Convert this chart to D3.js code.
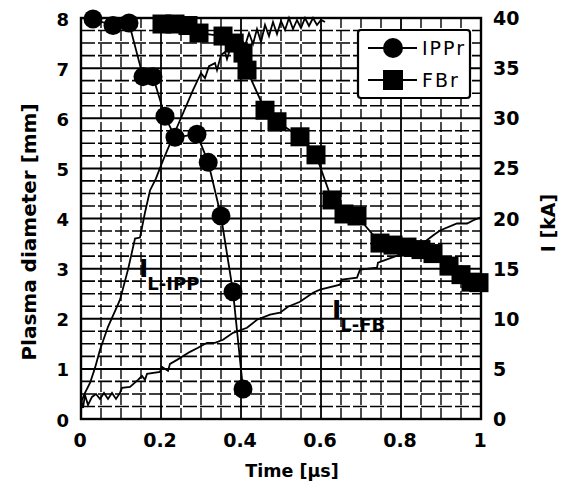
<!DOCTYPE html>
<html><head><meta charset="utf-8">
<script src="https://cdn.jsdelivr.net/npm/d3@7"></script>
<style>
html,body{margin:0;padding:0;background:#fff;}
text{font-family:"DejaVu Sans",sans-serif;fill:#000;}
</style></head>
<body>
<svg id="chart" width="571" height="495"></svg>
<script>
// ---- data ----
const ippT = [0.03, 0.08, 0.12, 0.155, 0.18, 0.21, 0.235, 0.29, 0.318, 0.35, 0.38, 0.405];
const ippD = [7.98, 7.85, 7.9, 6.83, 6.83, 6.04, 5.62, 5.68, 5.12, 4.05, 2.54, 0.6];

const fbT = [0.2025, 0.235, 0.2675, 0.295, 0.355, 0.383, 0.405, 0.415, 0.46, 0.49, 0.5475, 0.5875, 0.6275, 0.6575, 0.69, 0.7475, 0.78, 0.815, 0.85, 0.88, 0.92, 0.95, 0.975, 0.995];
const fbD = [7.88, 7.88, 7.85, 7.7, 7.64, 7.5, 7.3, 6.96, 6.16, 5.93, 5.63, 5.27, 4.37, 4.09, 4.05, 3.51, 3.47, 3.43, 3.38, 3.3, 3.05, 2.88, 2.73, 2.72];

const ilIppT = [0, 0.0025, 0.01, 0.0225, 0.035, 0.0475, 0.0675, 0.09, 0.0975, 0.1175, 0.135, 0.1475, 0.16, 0.1725, 0.1875, 0.205, 0.24, 0.28, 0.30, 0.31, 0.32, 0.335, 0.34, 0.35, 0.36, 0.365, 0.375, 0.385, 0.39, 0.40, 0.41, 0.42, 0.43, 0.44, 0.45, 0.46, 0.47, 0.48, 0.49, 0.50, 0.51, 0.52, 0.53, 0.54, 0.55, 0.56, 0.57, 0.58, 0.59, 0.60, 0.61];
const ilIppI = [1.5, 1.9, 2.6, 3.6, 5.1, 6.9, 9.2, 11.2, 11.9, 14.9, 18.0, 18.1, 20.6, 22.8, 24.0, 25.8, 29.1, 32.8, 34.5, 34.0, 35.2, 35.5, 34.8, 36.3, 36.6, 35.9, 37.2, 37.8, 36.5, 38.0, 37.2, 38.5, 37.4, 38.9, 37.6, 39.3, 38.2, 39.6, 38.4, 39.7, 38.8, 40.0, 38.9, 39.8, 39.0, 40.0, 39.2, 40.0, 39.3, 39.8, 39.6];

const ilFbT = [0, 0.005, 0.01, 0.0175, 0.0275, 0.0375, 0.0475, 0.0575, 0.0675, 0.0775, 0.0875, 0.0975, 0.1025, 0.1225, 0.1425, 0.1525, 0.16, 0.165, 0.1975, 0.2025, 0.2175, 0.2225, 0.24, 0.2725, 0.2925, 0.315, 0.335, 0.355, 0.38, 0.415, 0.44, 0.4725, 0.4975, 0.5175, 0.5475, 0.58, 0.5975, 0.6475, 0.6525, 0.69, 0.6975, 0.74, 0.7425, 0.7975, 0.8475, 0.88, 0.8975, 0.94, 0.965, 0.98, 0.9975];
const ilFbI = [1.9, 1.1, 2.4, 1.4, 2.2, 2.5, 2.0, 2.6, 2.0, 2.6, 2.0, 2.6, 3.1, 3.2, 3.9, 4.3, 3.9, 4.5, 4.7, 5.2, 4.8, 5.5, 5.9, 6.7, 7.1, 7.6, 7.6, 7.9, 8.6, 9.1, 9.9, 10.4, 10.6, 11.2, 11.7, 12.6, 12.9, 13.4, 13.9, 14.1, 14.9, 15.1, 15.6, 16.4, 17.3, 18.3, 18.8, 19.5, 19.5, 19.8, 20.1];

const xTicks = [0, 0.2, 0.4, 0.6, 0.8, 1];
const xTickLabels = ["0", "0.2", "0.4", "0.6", "0.8", "1"];
const yTicks = [0, 1, 2, 3, 4, 5, 6, 7, 8];
const y2Ticks = [0, 5, 10, 15, 20, 25, 30, 35, 40];

// ---- layout ----
const svg = d3.select("#chart");
const L = 81, R = 481, T = 18, B = 419;
const x = d3.scaleLinear().domain([0, 1]).range([L, R]);
const y = d3.scaleLinear().domain([0, 8]).range([B, T]);
const y2 = d3.scaleLinear().domain([0, 40]).range([B, T]);

svg.append("rect").attr("width", 571).attr("height", 495).attr("fill", "#fff");

// grid
const g = svg.append("g");
d3.range(0, 1.0001, 0.05).forEach(v => {
  const major = Math.abs(v * 5 - Math.round(v * 5)) < 1e-6;
  g.append("line").attr("x1", x(v)).attr("x2", x(v)).attr("y1", T).attr("y2", B)
    .attr("stroke", "#000").attr("stroke-width", major ? 1.8 : 1.4)
    .attr("stroke-dasharray", major ? null : "10,3");
});
d3.range(0, 8.0001, 0.25).forEach(v => {
  const major = Math.abs(v - Math.round(v)) < 1e-6;
  g.append("line").attr("x1", L).attr("x2", R).attr("y1", y(v)).attr("y2", y(v))
    .attr("stroke", "#000").attr("stroke-width", major ? 2 : 1.6)
    .attr("stroke-dasharray", major ? null : "14,3");
});

// current traces
const lineI = d3.line().x(d => x(d[0])).y(d => y2(d[1]));
svg.append("path").datum(d3.zip(ilIppT, ilIppI)).attr("d", lineI)
  .attr("fill", "none").attr("stroke", "#000").attr("stroke-width", 1.8);
svg.append("path").datum(d3.zip(ilFbT, ilFbI)).attr("d", lineI)
  .attr("fill", "none").attr("stroke", "#000").attr("stroke-width", 1.8);

// diameter series
const lineD = d3.line().x(d => x(d[0])).y(d => y(d[1]));
svg.append("path").datum(d3.zip(fbT, fbD)).attr("d", lineD)
  .attr("fill", "none").attr("stroke", "#000").attr("stroke-width", 1.8);
svg.append("g").selectAll("rect").data(d3.zip(fbT, fbD)).join("rect")
  .attr("x", d => x(d[0]) - 9.5).attr("y", d => y(d[1]) - 9.5)
  .attr("width", 19).attr("height", 19).attr("fill", "#000");
svg.append("path").datum(d3.zip(ippT, ippD)).attr("d", lineD)
  .attr("fill", "none").attr("stroke", "#000").attr("stroke-width", 1.8);
svg.append("g").selectAll("circle").data(d3.zip(ippT, ippD)).join("circle")
  .attr("cx", d => x(d[0])).attr("cy", d => y(d[1])).attr("r", 9.5).attr("fill", "#000");

// frame
svg.append("rect").attr("x", L).attr("y", T).attr("width", R - L).attr("height", B - T)
  .attr("fill", "none").attr("stroke", "#000").attr("stroke-width", 2.4);

// axes labels
svg.append("g").selectAll("text").data(yTicks).join("text")
  .attr("x", 69).attr("y", d => y(d) + 1).attr("text-anchor", "end")
  .attr("dominant-baseline", "central").attr("font-size", 18).attr("font-weight", "bold")
  .text(d => d);
svg.append("g").selectAll("text").data(y2Ticks).join("text")
  .attr("x", 493).attr("y", d => y2(d)).attr("text-anchor", "start")
  .attr("dominant-baseline", "central").attr("font-size", 19).attr("font-weight", "bold")
  .text(d => d);
svg.append("g").selectAll("text").data(xTicks).join("text")
  .attr("x", d => x(d) - 1).attr("y", 447).attr("text-anchor", "middle")
  .attr("font-size", 19).attr("font-weight", "bold")
  .text((d, i) => xTickLabels[i]);

svg.append("text").attr("x", 292).attr("y", 477).attr("text-anchor", "middle")
  .attr("font-size", 17.5).attr("font-weight", "bold").text("Time [μs]");
svg.append("text").attr("transform", "translate(36,232) rotate(-90)").attr("text-anchor", "middle")
  .attr("font-size", 20).attr("font-weight", "bold").text("Plasma diameter [mm]");
svg.append("text").attr("transform", "translate(555,223) rotate(-90)").attr("text-anchor", "middle")
  .attr("font-size", 19).attr("font-weight", "bold").text("I [kA]");

// trace labels
function traceLabel(px, py, sub) {
  const t = svg.append("text").attr("x", px).attr("y", py).attr("font-weight", "bold");
  t.append("tspan").attr("font-size", 25).text("I");
  t.append("tspan").attr("font-size", 18).attr("dx", -1).attr("dy", 13).text(sub);
}
traceLabel(139, 277, "L-IPP");
traceLabel(332, 318, "L-FB");

// legend
const lg = svg.append("g");
lg.append("rect").attr("x", 358).attr("y", 30).attr("width", 112).attr("height", 68)
  .attr("rx", 3).attr("fill", "#fff").attr("stroke", "#000").attr("stroke-width", 2.2);
lg.append("line").attr("x1", 368).attr("x2", 417).attr("y1", 48).attr("y2", 48).attr("stroke", "#000").attr("stroke-width", 1.8);
lg.append("circle").attr("cx", 393).attr("cy", 48).attr("r", 10).attr("fill", "#000");
lg.append("text").attr("x", 422).attr("y", 48).attr("dominant-baseline", "central")
  .attr("font-size", 19).attr("letter-spacing", 2).text("IPPr");
lg.append("line").attr("x1", 368).attr("x2", 417).attr("y1", 80).attr("y2", 80).attr("stroke", "#000").attr("stroke-width", 1.8);
lg.append("rect").attr("x", 383).attr("y", 70).attr("width", 20).attr("height", 20).attr("fill", "#000");
lg.append("text").attr("x", 422).attr("y", 80).attr("dominant-baseline", "central")
  .attr("font-size", 19).attr("letter-spacing", 2).text("FBr");
</script>
</body></html>
